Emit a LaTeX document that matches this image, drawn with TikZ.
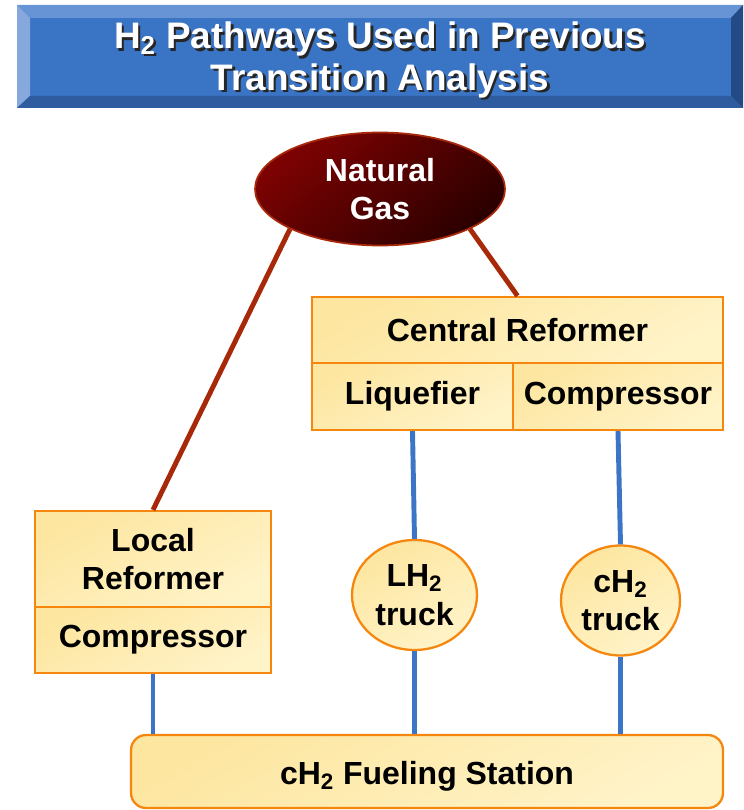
\documentclass[tikz,border=0pt]{standalone}
\usepackage{fontspec}
\setmainfont{Liberation Sans}
\usetikzlibrary{shapes.geometric}
\definecolor{bannerface}{HTML}{3A74C4}
\definecolor{bannertop}{HTML}{6794D4}
\definecolor{bannerleft}{HTML}{86A8DC}
\definecolor{bannerbot}{HTML}{2F5C9F}
\definecolor{bannerright}{HTML}{234A85}
\definecolor{boxedge}{HTML}{F5870F}
\definecolor{boxtop}{HTML}{FDE6A0}
\definecolor{boxbot}{HTML}{FFF3C8}
\definecolor{gasdark}{HTML}{2B0000}
\definecolor{gaslight}{HTML}{7E0202}
\definecolor{feedline}{HTML}{A8280A}
\definecolor{pipeline}{HTML}{3D75C6}

\begin{document}
\begin{tikzpicture}[x=0.02cm,y=-0.02cm,
	stagebox/.style={draw=boxedge, line width=1.3pt, shading=axis, top color=boxtop, bottom color=boxbot, shading angle=30, font=\fontsize{18.2}{22}\selectfont\bfseries, align=center, inner sep=0pt},
	truck/.style={stagebox, ellipse},
	gasfeed/.style={draw=feedline, line width=2.8pt},
	pipe/.style={draw=pipeline, line width=2.8pt}]
	\useasboundingbox (0,0) rectangle (743,810);
	\fill[bannerface] (17,5) rectangle (743,108);
	\fill[bannertop] (17,5) -- (743,5) -- (731,18) -- (30,18) -- cycle;
	\fill[bannerleft] (17,5) -- (30,18) -- (30,96) -- (17,108) -- cycle;
	\fill[bannerbot] (17,108) -- (30,96) -- (731,96) -- (743,108) -- cycle;
	\fill[bannerright] (743,5) -- (731,18) -- (731,96) -- (743,108) -- cycle;
	\node[font=\fontsize{21}{23.5}\selectfont\bfseries, text=black!85, align=center] (titleshadow) at (382.5,62.5) {H\textsubscript{2} Pathways Used in Previous\\Transition Analysis};
	\node[font=\fontsize{21}{23.5}\selectfont\bfseries, text=white, align=center] (title) at (380,60) {H\textsubscript{2} Pathways Used in Previous\\Transition Analysis};

	\node[ellipse, draw=feedline, line width=1pt, shading=axis, top color=gaslight, bottom color=gasdark, shading angle=40, minimum width=5cm, minimum height=2.26cm, text=white, font=\fontsize{18.2}{22}\selectfont\bfseries, align=center, inner sep=0pt] (gas) at (380,189) {Natural\\Gas};

	\node[stagebox, minimum width=8.22cm, minimum height=1.32cm] (central) at (517.5,330) {Central Reformer};
	\node[stagebox, minimum width=4.02cm, minimum height=1.34cm] (liq) at (412.5,396.5) {Liquefier};
	\node[stagebox, minimum width=4.2cm, minimum height=1.34cm] (comp) at (618,396.5) {Compressor};
	\node[stagebox, minimum width=4.72cm, minimum height=1.92cm] (local) at (153,559) {Local\\Reformer};
	\node[stagebox, minimum width=4.72cm, minimum height=1.32cm] (lcomp) at (153,640) {Compressor};
	\node[truck, minimum width=2.5cm, minimum height=2.2cm] (lh2) at (414.5,595) {LH\textsubscript{2}\\truck};
	\node[truck, minimum width=2.38cm, minimum height=2.2cm] (ch2) at (620.5,600.5) {cH\textsubscript{2}\\truck};
	\node[stagebox, rounded corners=0.3cm, minimum width=11.84cm, minimum height=1.46cm, text height=0.62cm, text depth=0.1cm] (station) at (427,771.5) {cH\textsubscript{2} Fueling Station};

	\path[gasfeed]
	(gas.204) edge (local.north)
	(gas.336) edge (central.north)
	;
	\path[pipe]
	(liq.south) edge (lh2.north)
	(lh2.south) edge (lh2.south |- station.north)
	(comp.south) edge (ch2.north)
	(ch2.south) edge (ch2.south |- station.north)
	(lcomp.south) edge (lcomp.south |- station.north)
	;
\end{tikzpicture}
\end{document}
